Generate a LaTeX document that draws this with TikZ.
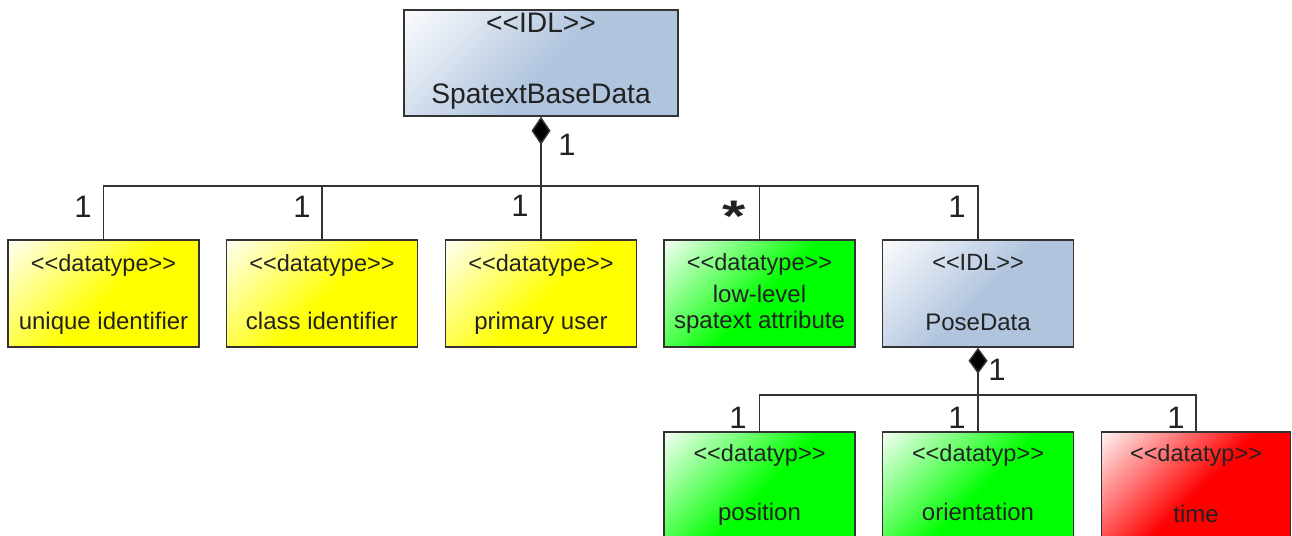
\documentclass[tikz,border=0pt]{standalone}
\usepackage{fontspec}
\setmainfont{Liberation Sans}
\usetikzlibrary{arrows.meta}
\definecolor{txt}{HTML}{222222}
\definecolor{edgec}{HTML}{333333}
\definecolor{lsb}{RGB}{176,196,222}
\definecolor{ylw}{RGB}{255,255,0}
\definecolor{grn}{RGB}{0,255,0}
\definecolor{rd}{RGB}{255,0,0}
\pgfdeclareverticalshading{shY}{100bp}{color(0bp)=(white); color(13bp)=(white); color(52bp)=(ylw); color(100bp)=(ylw)}
\pgfdeclareverticalshading{shG}{100bp}{color(0bp)=(white); color(13bp)=(white); color(52bp)=(grn); color(100bp)=(grn)}
\pgfdeclareverticalshading{shR}{100bp}{color(0bp)=(white); color(13bp)=(white); color(52bp)=(rd); color(100bp)=(rd)}
\pgfdeclareverticalshading{shB}{100bp}{color(0bp)=(white); color(13bp)=(white); color(52bp)=(lsb); color(100bp)=(lsb)}
\tikzset{
  ubox/.style={draw=edgec, line width=1.5pt, shading=#1, shading angle=225, inner sep=0pt},
  rowbox/.style={ubox=#1, minimum width=191pt, minimum height=107pt},
  st/.style={text=txt, font=\fontsize{23.5}{25}\selectfont, anchor=base, inner sep=0pt},
  nm/.style={text=txt, font=\fontsize{24}{26}\selectfont, anchor=base, inner sep=0pt},
  bigst/.style={text=txt, font=\fontsize{28.2}{30}\selectfont, anchor=base, inner sep=0pt},
  mult/.style={text=txt, font=\fontsize{31}{34}\selectfont, anchor=base, inner sep=0pt},
  conn/.style={draw=edgec, line width=1.5pt},
  comp/.style={conn, {Diamond[length=#1pt, width=19pt, fill=black]}-},
}
\begin{document}
\begin{tikzpicture}[x=1pt, y=-1pt]
\useasboundingbox (0,0) rectangle (1292,535);
\clip (0,0) rectangle (1292,535);
\fill[white] (0,0) rectangle (1292,535);
% top class
\node[ubox=shB, minimum width=274pt, minimum height=106pt] (base) at (541,63) {};
\node[bigst] (baseS) at (541,33) {{<}{<}IDL{>}{>}};
\node[bigst] (baseN) at (541,103) {SpatextBaseData};
% row 1
\node[rowbox=shY] (uid) at (103.5,293.5) {};
\node[st] (uidS) at (103.5,271) {{<}{<}datatype{>}{>}};
\node[nm] (uidN) at (103.5,329) {unique identifier};
\node[rowbox=shY] (cid) at (322,293.5) {};
\node[st] (cidS) at (322,271) {{<}{<}datatype{>}{>}};
\node[nm] (cidN) at (322,329) {class identifier};
\node[rowbox=shY] (pu) at (541,293.5) {};
\node[st] (puS) at (541,271) {{<}{<}datatype{>}{>}};
\node[nm] (puN) at (541,329) {primary user};
\node[rowbox=shG] (ll) at (759.5,293.5) {};
\node[st] (llS) at (759.5,270) {{<}{<}datatype{>}{>}};
\node[nm] (llN1) at (759.5,302) {low-level};
\node[nm] (llN2) at (759.5,328) {spatext attribute};
\node[rowbox=shB] (pose) at (978,293.5) {};
\node[st] (poseS) at (978,270) {{<}{<}IDL{>}{>}};
\node[nm] (poseN) at (978,330) {PoseData};
% row 2
\node[rowbox=shG] (pos) at (759.5,485.5) {};
\node[st] (posS) at (759.5,461) {{<}{<}datatyp{>}{>}};
\node[nm] (posN) at (759.5,520) {position};
\node[rowbox=shG] (ori) at (978,485.5) {};
\node[st] (oriS) at (978,461) {{<}{<}datatyp{>}{>}};
\node[nm] (oriN) at (978,520) {orientation};
\node[rowbox=shR, minimum width=189pt] (tim) at (1196,485.5) {};
\node[st] (timS) at (1196,461) {{<}{<}datatyp{>}{>}};
\node[nm] (timN) at (1196,522) {time};
% connectors level 1
\coordinate (j1) at (541,186);
\draw[comp=28] (base.south) -- (j1);
\draw[conn] (j1) -| (uid.north);
\draw[conn] (j1) -| (cid.north);
\draw[conn] (j1) -- (pu.north);
\draw[conn] (j1) -| (ll.north);
\draw[conn] (j1) -| (pose.north);
% connectors level 2
\coordinate (j2) at (978,395);
\draw[comp=26] (pose.south) -- (j2);
\draw[conn] (j2) -| (pos.north);
\draw[conn] (j2) -- (ori.north);
\draw[conn] (j2) -| (tim.north);
% multiplicities
\node[mult] (m0) at (567,155) {1};
\node[mult] (m1) at (83,217) {1};
\node[mult] (m2) at (302,217) {1};
\node[mult] (m3) at (520,216) {1};
\node[text=txt, font=\fontsize{52}{52}\selectfont\bfseries, anchor=base, inner sep=0pt] (m4) at (734,231) {\scalebox{1.15}[0.85]{*}};
\node[mult] (m5) at (957,217) {1};
\node[mult] (m6) at (997,380) {1};
\node[mult] (m7) at (738,428) {1};
\node[mult] (m8) at (957,428) {1};
\node[mult] (m9) at (1176,428) {1};
\end{tikzpicture}
\end{document}
